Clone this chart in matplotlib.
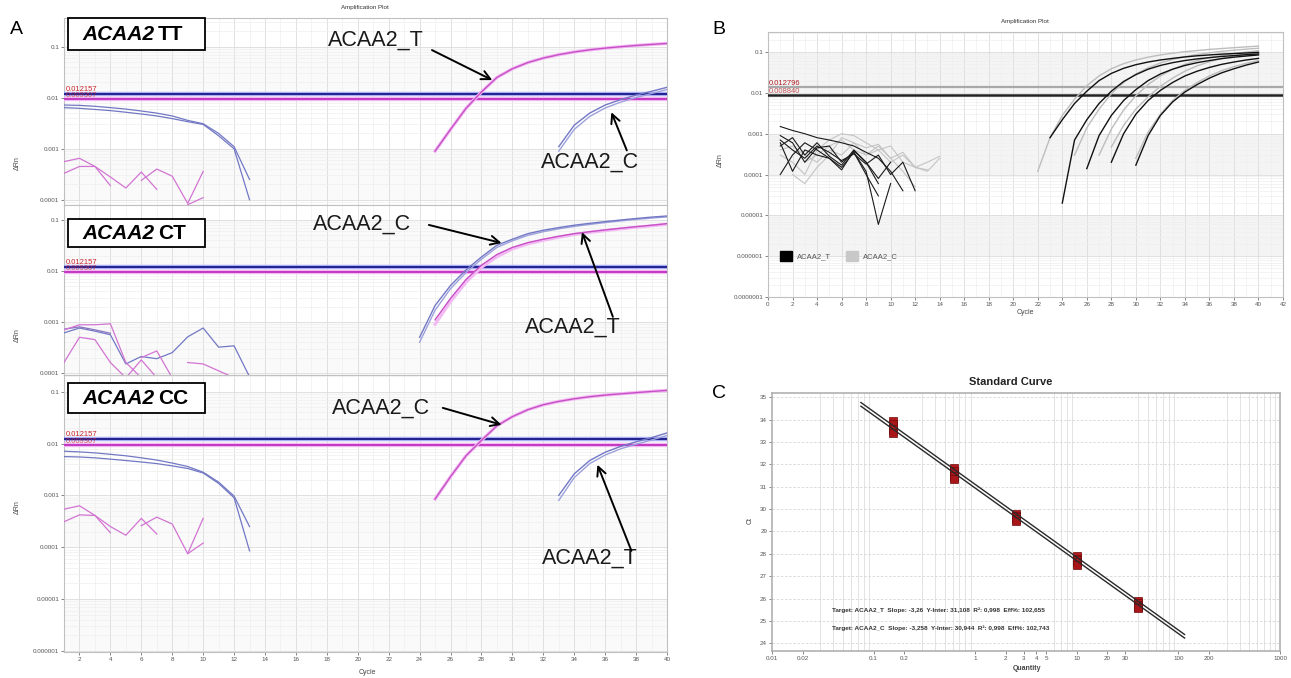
import numpy as np
import matplotlib
matplotlib.use('Agg')
import matplotlib.pyplot as plt
from matplotlib.patches import Rectangle, Patch
from matplotlib.ticker import FixedLocator, FixedFormatter, NullFormatter, LogLocator

plt.rcParams['font.family'] = ['Liberation Sans', 'DejaVu Sans']

# ===================== DATA =====================
# ---- Panel A (three genotypes, cycles on x, dRn on log y) ----
A_xticks = list(range(2, 41, 2))
A_ytick_vals = [1e-1, 1e-2, 1e-3, 1e-4, 1e-5, 1e-6]
A_ytick_labels = ['0.1', '0.01', '0.001', '0.0001', '0.00001', '0.000001']
A_thr_blue = 0.0121
A_thr_magenta = 0.0094
A_thr_labels = ['0.012157', '0.009307']

# TT
TT_blue_base1 = [0.0072, 0.0071, 0.0068, 0.0064, 0.0060, 0.0055, 0.0050, 0.0044, 0.0036, 0.0031, 0.0020, 0.0011, 0.00025]
TT_blue_base2 = [0.0064, 0.0062, 0.0059, 0.0056, 0.0052, 0.0048, 0.0044, 0.0039, 0.0034, 0.0030, 0.0018, 0.0010, 0.0001]
TT_mag_base1 = [0.00056, 0.00065, 0.00045, 0.00019]                       # from cycle 1
TT_mag_base2 = [0.00033, 0.00045, 0.00045, 0.00028, 0.00017, 0.00035, 0.00016]  # from cycle 1
TT_mag_base3 = [0.00024, 0.00040, 0.00029, 0.000085, 0.00036]             # from cycle 6
TT_mag_base4 = [0.00008, 0.00011]                                          # from cycle 9
TT_T_amp = [0.0009, 0.0024, 0.0062, 0.013, 0.025, 0.037, 0.049, 0.060, 0.070, 0.079, 0.087, 0.094, 0.100, 0.106, 0.111, 0.116]  # cycles 25-40
TT_C_amp1 = [0.0011, 0.0029, 0.0050, 0.0072, 0.0092, 0.0113, 0.0134, 0.0160]  # cycles 33-40
TT_C_amp2 = [0.0009, 0.0024, 0.0043, 0.0063, 0.0082, 0.0101, 0.0121, 0.0145]

# CT
CT_blue_base1 = [0.00061, 0.00076, 0.00066, 0.00056, 0.00015, 0.00021, 0.00019, 0.00025, 0.00051, 0.00076, 0.00032, 0.00034, 0.000084]
CT_blue_base2 = [0.00072, 0.00080, 0.00070, 0.00060]
CT_mag_base1 = [0.00070, 0.00088, 0.00088, 0.00092, 0.00016, 0.00008]       # from cycle 1
CT_mag_base2 = [0.00016, 0.00050, 0.00045, 0.00016, 0.00008, 0.00018, 0.00008]  # from cycle 1
CT_mag_base3 = [0.00020, 0.00027, 0.00008]                                 # from cycle 6
CT_mag_base4 = [0.00016, 0.00015, 0.00011, 0.00008]                        # from cycle 9
CT_C_amp1 = [0.0005, 0.0021, 0.0052, 0.0105, 0.0188, 0.032, 0.042, 0.054, 0.063, 0.071, 0.079, 0.086, 0.093, 0.100, 0.107, 0.114, 0.120]  # cycles 24-40
CT_C_amp2 = [0.0004, 0.0017, 0.0045, 0.0093, 0.017, 0.029, 0.039, 0.050, 0.059, 0.067, 0.075, 0.082, 0.089, 0.096, 0.103, 0.109, 0.115]
CT_T_amp1 = [0.0011, 0.0029, 0.0068, 0.013, 0.021, 0.029, 0.036, 0.042, 0.048, 0.054, 0.059, 0.064, 0.069, 0.074, 0.079, 0.085]  # cycles 25-40
CT_T_amp2 = [0.0009, 0.0025, 0.0060, 0.0118, 0.019, 0.027, 0.034, 0.040, 0.046, 0.052, 0.057, 0.062, 0.067, 0.072, 0.077, 0.082]

# CC
CC_blue_base1 = [0.0071, 0.0069, 0.0066, 0.0062, 0.0058, 0.0053, 0.0048, 0.0042, 0.0036, 0.0028, 0.0018, 0.00097, 0.00025]
CC_blue_base2 = [0.0056, 0.0055, 0.0053, 0.0050, 0.0047, 0.0044, 0.0041, 0.0037, 0.0033, 0.0027, 0.0017, 0.0009, 0.000085]
CC_mag_base1 = [0.00054, 0.00063, 0.00041, 0.00019]
CC_mag_base2 = [0.00031, 0.00042, 0.00041, 0.00025, 0.00017, 0.00036, 0.00018]
CC_mag_base3 = [0.00026, 0.00038, 0.00028, 0.000075, 0.00036]
CC_mag_base4 = [0.000075, 0.00012]
CC_C_amp = [0.00085, 0.0023, 0.0058, 0.0115, 0.022, 0.033, 0.045, 0.056, 0.065, 0.073, 0.080, 0.086, 0.091, 0.096, 0.101, 0.106]  # cycles 25-40
CC_T_amp1 = [0.0010, 0.0026, 0.0047, 0.0068, 0.0088, 0.0108, 0.0130, 0.0160]  # cycles 33-40
CC_T_amp2 = [0.0008, 0.0022, 0.0041, 0.0060, 0.0079, 0.0097, 0.0117, 0.0143]

# ---- Panel B ----
B_xticks = list(range(0, 43, 2))
B_ytick_vals = [1e-1, 1e-2, 1e-3, 1e-4, 1e-5, 1e-6, 1e-7]
B_ytick_labels = ['0.1', '0.01', '0.001', '0.0001', '0.00001', '0.000001', '0.0000001']
B_thr_grey = 0.0139
B_thr_black = 0.0089
B_thr_labels = ['0.012796', '0.008840']
# amplification curves: (start cycle, values)
B_T_amp1 = (23, [8e-4, 2.2e-3, 5.5e-3, 1.1e-2, 2.0e-2, 3.0e-2, 4.0e-2, 4.9e-2, 5.7e-2, 6.4e-2, 7.0e-2, 7.6e-2, 8.1e-2, 8.5e-2, 8.9e-2, 9.2e-2, 9.5e-2, 9.8e-2])
B_T_amp2 = (24, [2e-5, 7e-4, 2.2e-3, 5.5e-3, 1.1e-2, 1.9e-2, 2.8e-2, 3.8e-2, 4.7e-2, 5.5e-2, 6.2e-2, 6.8e-2, 7.3e-2, 7.8e-2, 8.2e-2, 8.6e-2, 9.0e-2])
B_T_amp3 = (26, [1.4e-4, 9e-4, 2.8e-3, 6.5e-3, 1.2e-2, 2.0e-2, 2.9e-2, 3.8e-2, 4.7e-2, 5.5e-2, 6.2e-2, 6.9e-2, 7.5e-2, 8.0e-2, 8.5e-2])
B_T_amp4 = (28, [2e-4, 1e-3, 3e-3, 6.5e-3, 1.15e-2, 1.8e-2, 2.6e-2, 3.4e-2, 4.2e-2, 5.0e-2, 5.7e-2, 6.4e-2, 7.0e-2])
B_T_amp5 = (30, [1.7e-4, 9e-4, 2.8e-3, 6e-3, 1.05e-2, 1.6e-2, 2.3e-2, 3.1e-2, 3.9e-2, 4.8e-2, 5.7e-2])
B_C_amp1 = (22, [1.2e-4, 8e-4, 2.8e-3, 7e-3, 1.5e-2, 2.6e-2, 3.9e-2, 5.2e-2, 6.4e-2, 7.5e-2, 8.5e-2, 9.4e-2, 0.102, 0.109, 0.116, 0.122, 0.128, 0.134, 0.140])
B_C_amp2 = (25, [3e-4, 1.4e-3, 4e-3, 9.5e-3, 1.8e-2, 2.9e-2, 4.1e-2, 5.4e-2, 6.6e-2, 7.7e-2, 8.7e-2, 9.6e-2, 0.104, 0.111, 0.118, 0.124])
B_C_amp3 = (27, [3e-4, 1.3e-3, 3.8e-3, 8.5e-3, 1.6e-2, 2.6e-2, 3.8e-2, 5.0e-2, 6.2e-2, 7.3e-2, 8.3e-2, 9.2e-2, 0.100, 0.108])
B_C_amp4 = (28, [4.7e-4, 1.6e-3, 4e-3, 8e-3, 1.45e-2, 2.3e-2, 3.4e-2, 4.6e-2, 5.8e-2, 7.0e-2, 8.1e-2, 9.1e-2, 0.100])
B_C_amp5 = (30, [2.5e-4, 1.1e-3, 3e-3, 6.5e-3, 1.15e-2, 1.8e-2, 2.6e-2, 3.5e-2, 4.4e-2, 5.3e-2, 6.2e-2])
# baseline noise
B_T_base1 = (1, [1.5e-3, 1.2e-3, 1.0e-3, 8e-4, 7e-4, 6e-4, 5e-4, 3.5e-4, 2.5e-4, 1.2e-4, 4e-5])
B_T_base2 = (1, [1e-4, 3e-4, 6e-4, 4e-4, 2.5e-4, 1.5e-4, 3.5e-4, 1e-4, 3e-5])
B_T_base3 = (1, [9e-4, 6e-4, 2e-4, 4.5e-4, 5e-4, 2e-4, 3.5e-4, 1.2e-4, 6e-6, 6e-5])
B_T_base4 = (1, [6e-4, 1.2e-4, 4e-4, 3e-4, 2.5e-4, 1.3e-4, 3.8e-4, 2e-4, 8e-5, 2e-4])
B_T_base5 = (1, [7e-4, 4e-4, 2.5e-4, 5e-4, 3.5e-4, 2.2e-4, 3.2e-4, 1.8e-4, 3e-4, 1e-4, 2e-4, 4e-5])
B_T_base6 = (1, [5e-4, 8e-4, 3e-4, 6e-4, 2.8e-4, 1.7e-4, 4e-4, 2e-4, 6e-5])
B_C_base1 = (1, [3e-4, 2e-4, 1e-4, 4e-4, 7e-4, 1e-3, 9e-4, 6e-4, 4e-4, 5e-4, 2e-4, 1.5e-4, 1.2e-4, 2.5e-4])
B_C_base2 = (2, [1e-4, 6e-5, 1.5e-4, 3e-4, 8e-4, 6e-4, 3e-4, 4e-4, 2e-4, 3e-4, 1.5e-4, 1.3e-4])
B_C_base3 = (1, [4e-4, 5e-4, 3e-4, 2e-4, 4e-4, 3e-4, 6e-4, 4.5e-4, 5.5e-4, 2.5e-4, 1.2e-4, 5e-5])
B_C_base4 = (3, [2e-4, 3e-4, 5e-4, 7e-4, 4e-4, 3e-4, 5e-4, 2.5e-4, 3.5e-4, 1.5e-4, 2e-4, 2.8e-4])
B_legend = ['ACAA2_T', 'ACAA2_C']

# ---- Panel C (standard curve) ----
C_quantity = [0.15625, 0.625, 2.5, 10, 40]
C_ct_T = [[33.95, 33.75, 33.55], [31.85, 31.65, 31.45], [29.80, 29.70, 29.60], [27.90, 27.78, 27.66], [25.88, 25.78, 25.68]]
C_ct_C = [[33.80, 33.60, 33.40], [31.70, 31.50, 31.35], [29.65, 29.55, 29.45], [27.72, 27.62, 27.52], [25.72, 25.64, 25.56]]
C_slope_T, C_inter_T = -3.26, 31.108
C_slope_C, C_inter_C = -3.258, 30.944
C_line_range = [0.075, 115]
C_xticks = [0.01, 0.02, 0.1, 0.2, 1, 2, 3, 4, 5, 10, 20, 30, 100, 200, 1000]
C_xtick_labels = ['0.01', '0.02', '0.1', '0.2', '1', '2', '3', '4', '5', '10', '20', '30', '100', '200', '1000']
C_yticks = list(range(24, 36))
C_info = ['Target: ACAA2_T  Slope: -3,26  Y-Inter: 31,108  R\u00b2: 0,998  Eff%: 102,655',
          'Target: ACAA2_C  Slope: -3,258  Y-Inter: 30,944  R\u00b2: 0,998  Eff%: 102,743']

# ===================== FIGURE =====================
W, H = 1291, 678
fig = plt.figure(figsize=(W / 100, H / 100), dpi=100)


def rect(x0, y0, x1, y1):
    return [x0 / W, 1 - y1 / H, (x1 - x0) / W, (y1 - y0) / H]


def fpos(x, y):
    return x / W, 1 - y / H


BLUE = '#7278c4'
BLUE2 = '#9ca1dc'
MAG = '#d274d2'
MAG_HALO = '#f3b9f3'
TICKC = '#555555'


def style_log(ax, xlim, ylim, xticks, ytv, ytl, xlabels=True, band='#f6f6f6'):
    ax.set_yscale('log')
    ax.set_xlim(*xlim)
    ax.set_ylim(*ylim)
    for lo, hi in [(1e-2, 1e-1), (1e-4, 1e-3), (1e-6, 1e-5)]:
        ax.axhspan(lo, hi, color=band, lw=0, zorder=0)
    ax.yaxis.set_major_locator(FixedLocator(ytv))
    ax.yaxis.set_major_formatter(FixedFormatter(ytl))
    ax.yaxis.set_minor_locator(LogLocator(base=10, subs=np.arange(2, 10)))
    ax.yaxis.set_minor_formatter(NullFormatter())
    ax.set_xticks(xticks)
    ax.set_xticks(np.arange(int(xlim[0]), int(xlim[1]) + 1), minor=True)
    if not xlabels:
        ax.set_xticklabels([])
    ax.grid(which='major', color='#dcdcdc', lw=0.6)
    ax.grid(which='minor', color='#efefef', lw=0.5)
    ax.set_axisbelow(True)
    ax.tick_params(which='major', labelsize=4.5, colors=TICKC, length=2, width=0.5, pad=1.5)
    ax.tick_params(which='minor', length=0)
    for s in ax.spines.values():
        s.set_color('#c0c0c0')
        s.set_linewidth(0.8)


def plot_series(ax, start, vals, color, lw=0.9, z=5):
    x = np.arange(start, start + len(vals))
    ax.plot(x, vals, color=color, lw=lw, zorder=z, solid_joinstyle='round')


def thresholds(ax, tb, tm, labels):
    ax.axhline(tb, color='#a9aef5', lw=3.2, zorder=3)
    ax.axhline(tm, color=MAG_HALO, lw=3.2, zorder=3)
    ax.axhline(tb, color='#22228f', lw=1.4, zorder=4)
    ax.axhline(tm, color='#c238c2', lw=1.4, zorder=4)
    ax.text(1.1, tb * 1.04, labels[0], color='#c8242c', fontsize=5.5, va='bottom', ha='left', zorder=6)
    ax.text(1.1, tm * 1.0, labels[1], color='#c8242c', fontsize=5.5, va='bottom', ha='left', zorder=6, alpha=0.75)


def amp_pair(ax, start, v1, v2, color1, color2):
    plot_series(ax, start, v2, color2, lw=1.0)
    plot_series(ax, start, v1, color1, lw=1.0)


def mag_amp(ax, start, vals):
    plot_series(ax, start, vals, MAG_HALO, lw=2.4, z=4)
    plot_series(ax, start, vals, '#c64fc6', lw=1.0, z=5)


def arrow(ax, head, tail):
    ax.annotate('', xy=head, xytext=tail,
                arrowprops=dict(arrowstyle='->', color='black', lw=1.4, mutation_scale=16,
                                shrinkA=0, shrinkB=0), zorder=8)


def label(ax, xy, s):
    ax.text(xy[0], xy[1], s, fontsize=15.5, ha='center', va='center', color='#1a1a1a', zorder=8)


A_xlim = (1, 40)
axA1 = fig.add_axes(rect(64, 18, 667, 205))
axA2 = fig.add_axes(rect(64, 205, 667, 375))
axA3 = fig.add_axes(rect(64, 375, 667, 652))
style_log(axA1, A_xlim, (7.9e-5, 0.366), A_xticks, A_ytick_vals, A_ytick_labels, xlabels=False, band='#fafafa')
style_log(axA2, A_xlim, (9.1e-5, 0.197), A_xticks, A_ytick_vals, A_ytick_labels, xlabels=False, band='#fafafa')
style_log(axA3, A_xlim, (9.5e-7, 0.21), A_xticks, A_ytick_vals, A_ytick_labels, xlabels=True, band='#fafafa')
for a in (axA1, axA2):
    a.tick_params(axis='x', length=0)

# --- TT ---
thresholds(axA1, A_thr_blue, A_thr_magenta, A_thr_labels)
plot_series(axA1, 1, TT_blue_base1, BLUE)
plot_series(axA1, 1, TT_blue_base2, BLUE)
plot_series(axA1, 1, TT_mag_base1, MAG)
plot_series(axA1, 1, TT_mag_base2, MAG)
plot_series(axA1, 6, TT_mag_base3, MAG)
plot_series(axA1, 9, TT_mag_base4, MAG)
mag_amp(axA1, 25, TT_T_amp)
amp_pair(axA1, 33, TT_C_amp1, TT_C_amp2, BLUE, BLUE2)
label(axA1, (21.2, 0.135), 'ACAA2_T')
arrow(axA1, (28.7, 0.0222), (24.8, 0.086))
label(axA1, (35.0, 0.00055), 'ACAA2_C')
arrow(axA1, (36.4, 0.0052), (37.4, 0.00093))

# --- CT ---
thresholds(axA2, A_thr_blue, A_thr_magenta, A_thr_labels)
plot_series(axA2, 1, CT_blue_base1, BLUE)
plot_series(axA2, 1, CT_blue_base2, '#8a72c2')
plot_series(axA2, 1, CT_mag_base1, MAG)
plot_series(axA2, 1, CT_mag_base2, MAG)
plot_series(axA2, 6, CT_mag_base3, MAG)
plot_series(axA2, 9, CT_mag_base4, MAG)
plot_series(axA2, 25, CT_T_amp2, MAG_HALO, lw=2.2, z=4)
plot_series(axA2, 25, CT_T_amp1, '#c64fc6', lw=1.0)
amp_pair(axA2, 24, CT_C_amp1, CT_C_amp2, BLUE, BLUE2)
label(axA2, (20.3, 0.0835), 'ACAA2_C')
arrow(axA2, (29.3, 0.0354), (24.6, 0.08))
label(axA2, (33.9, 0.00079), 'ACAA2_T')
arrow(axA2, (34.5, 0.058), (36.5, 0.00126))

# --- CC ---
thresholds(axA3, A_thr_blue, A_thr_magenta, A_thr_labels)
plot_series(axA3, 1, CC_blue_base1, BLUE)
plot_series(axA3, 1, CC_blue_base2, BLUE)
plot_series(axA3, 1, CC_mag_base1, MAG)
plot_series(axA3, 1, CC_mag_base2, MAG)
plot_series(axA3, 6, CC_mag_base3, MAG)
plot_series(axA3, 9, CC_mag_base4, MAG)
mag_amp(axA3, 25, CC_C_amp)
amp_pair(axA3, 33, CC_T_amp1, CC_T_amp2, BLUE, BLUE2)
label(axA3, (21.5, 0.0487), 'ACAA2_C')
arrow(axA3, (29.3, 0.023), (25.5, 0.0487))
label(axA3, (35.0, 6e-5), 'ACAA2_T')
arrow(axA3, (35.5, 0.0039), (37.7, 8.5e-5))

# genotype boxes
renderer = fig.canvas.get_renderer()
for (y0, y1), gt in zip([(18, 50), (219, 247), (383, 413)], ['TT', 'CT', 'CC']):
    fig.add_artist(Rectangle(fpos(68, y1), (205 - 68) / W, (y1 - y0) / H, transform=fig.transFigure,
                             fc='white', ec='black', lw=1.3, zorder=5))
    yc = (y0 + y1) / 2 + 0.5
    t1 = fig.text(*fpos(82, yc), 'ACAA2', fontsize=15, style='italic', weight='bold', va='center', ha='left', zorder=6)
    bb = t1.get_window_extent(renderer=renderer)
    fig.text(bb.x1 / W + 4 / W, 1 - yc / H, gt, fontsize=15, weight='bold', va='center', ha='left', zorder=6)

fig.text(*fpos(365, 8), 'Amplification Plot', fontsize=4.5, ha='center', va='center', color='#333333')
for yy in (163, 335, 507):
    fig.text(*fpos(17, yy), '\u0394Rn', fontsize=5, rotation=90, ha='center', va='center', color='#444444')
fig.text(*fpos(367, 673), 'Cycle', fontsize=5, ha='center', va='center', color='#444444')
fig.text(*fpos(16, 30), 'A', fontsize=14, ha='center', va='center')

# ===================== Panel B =====================
axB = fig.add_axes(rect(768, 32, 1283, 297))
style_log(axB, (0, 42), (1e-7, 0.31), B_xticks, B_ytick_vals, B_ytick_labels, xlabels=True, band='#f4f4f4')
axB.axhline(B_thr_grey, color='#a8a8a8', lw=1.6, zorder=3)
axB.axhline(B_thr_black, color='#222222', lw=1.8, zorder=3)
axB.text(0.1, B_thr_grey * 1.02, B_thr_labels[0], color='#b01e22', fontsize=5.5, va='bottom', ha='left', zorder=6)
axB.text(0.1, B_thr_black * 1.0, B_thr_labels[1], color='#b01e22', fontsize=5.5, va='bottom', ha='left', zorder=6, alpha=0.75)
for s, v in [B_C_base1, B_C_base2, B_C_base3, B_C_base4]:
    plot_series(axB, s, v, '#c4c4c4', lw=0.8)
for s, v in [B_T_base1, B_T_base2, B_T_base3, B_T_base4, B_T_base5, B_T_base6]:
    plot_series(axB, s, v, '#1a1a1a', lw=0.8)
for s, v in [B_C_amp1, B_C_amp2, B_C_amp3, B_C_amp4, B_C_amp5]:
    plot_series(axB, s, v, '#bdbdbd', lw=1.0)
for s, v in [B_T_amp1, B_T_amp2, B_T_amp3, B_T_amp4, B_T_amp5]:
    plot_series(axB, s, v, '#111111', lw=1.0)
axB.legend(handles=[Patch(fc='black', ec='black'), Patch(fc='#c8c8c8', ec='#c8c8c8')], labels=B_legend,
           loc='center left', bbox_to_anchor=(0.01, 0.155), ncol=2, frameon=False, fontsize=5.5,
           handlelength=1.6, handleheight=1.6, columnspacing=2.0, handletextpad=0.6,
           labelcolor='#555555')
fig.text(*fpos(1025, 22), 'Amplification Plot', fontsize=4.5, ha='center', va='center', color='#333333')
fig.text(*fpos(720, 160), '\u0394Rn', fontsize=5, rotation=90, ha='center', va='center', color='#444444')
fig.text(*fpos(1025, 313), 'Cycle', fontsize=5, ha='center', va='center', color='#444444')
fig.text(*fpos(719, 29), 'B', fontsize=14, ha='center', va='center')

# ===================== Panel C =====================
axC = fig.add_axes(rect(772, 393, 1280, 651))
axC.set_xscale('log')
axC.set_xlim(0.01, 1000)
axC.set_ylim(23.65, 35.2)
axC.xaxis.set_major_locator(FixedLocator(C_xticks))
axC.xaxis.set_major_formatter(FixedFormatter(C_xtick_labels))
axC.xaxis.set_minor_locator(LogLocator(base=10, subs=np.arange(1, 10)))
axC.xaxis.set_minor_formatter(NullFormatter())
axC.set_yticks(C_yticks)
axC.grid(which='minor', axis='x', color='#dedede', lw=0.6)
axC.grid(which='major', axis='y', color='#d6d6d6', lw=0.6, ls=(0, (3, 2)))
axC.set_axisbelow(True)
axC.tick_params(which='major', labelsize=4.5, colors=TICKC, length=2, width=0.5, pad=1.5)
axC.tick_params(which='minor', length=0)
for s in axC.spines.values():
    s.set_color('#b0b0b0')
    s.set_linewidth(1.2)
q_line = np.array(C_line_range)
axC.plot(q_line, C_inter_T + C_slope_T * np.log10(q_line), color='#2a2a2a', lw=1.0, zorder=4)
axC.plot(q_line, C_inter_C + C_slope_C * np.log10(q_line), color='#2a2a2a', lw=1.0, zorder=4)
for q, reps_t, reps_c in zip(C_quantity, C_ct_T, C_ct_C):
    axC.plot([q] * len(reps_t), reps_t, ls='none', marker='s', ms=5.5, mfc='#b3191c', mec='#6e0a0a', mew=0.5, zorder=3)
    axC.plot([q] * len(reps_c), reps_c, ls='none', marker='s', ms=5.5, mfc='#a8161a', mec='#6e0a0a', mew=0.5, zorder=3)
axC.text(0.118, 0.159, C_info[0], transform=axC.transAxes, fontsize=4.6, weight='bold', color='#333333', va='center')
axC.text(0.118, 0.089, C_info[1], transform=axC.transAxes, fontsize=4.6, weight='bold', color='#333333', va='center')
fig.text(*fpos(1011, 382), 'Standard Curve', fontsize=8, weight='bold', ha='center', va='center', color='#222222')
fig.text(*fpos(750, 520), 'Ct', fontsize=5, rotation=90, ha='center', va='center', color='#444444')
fig.text(*fpos(1027, 668), 'Quantity', fontsize=5, weight='bold', ha='center', va='center', color='#444444')
fig.text(*fpos(719, 394), 'C', fontsize=14, ha='center', va='center')

fig.savefig('out.png', dpi=100)
